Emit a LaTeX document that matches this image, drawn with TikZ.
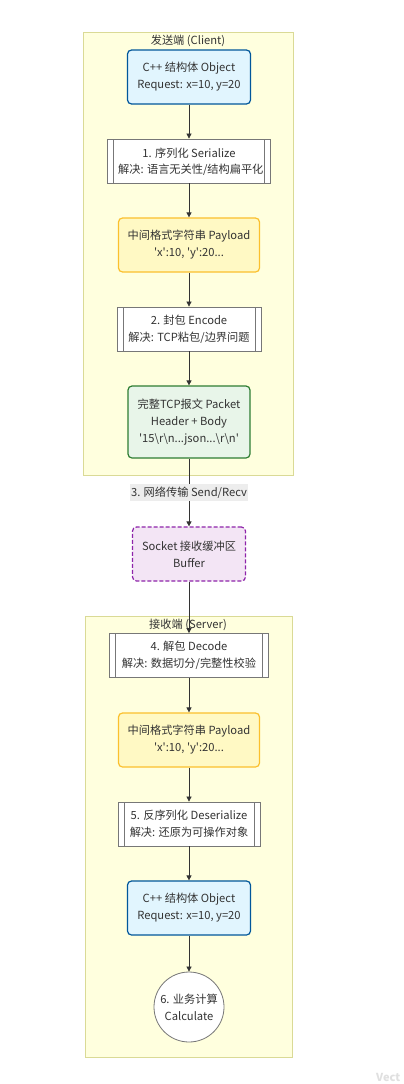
\documentclass[tikz,border=0pt]{standalone}
\usepackage{fontspec}
\setmainfont{Noto Sans CJK SC}
\usetikzlibrary{arrows.meta}
\definecolor{clfill}{HTML}{FFFFDE}
\definecolor{cldraw}{HTML}{DADA96}
\definecolor{bluefill}{HTML}{E1F5FE}
\definecolor{bluedraw}{HTML}{01579B}
\definecolor{yelfill}{HTML}{FFF9C4}
\definecolor{yeldraw}{HTML}{FBC02D}
\definecolor{grnfill}{HTML}{E8F5E9}
\definecolor{grndraw}{HTML}{2E7D32}
\definecolor{purfill}{HTML}{F3E5F5}
\definecolor{purdraw}{HTML}{8E24AA}
\definecolor{subdraw}{HTML}{777777}
\definecolor{txt}{HTML}{333333}
\definecolor{lblbg}{HTML}{EDEDED}
\tikzset{
  base/.style={align=center, text=txt, font=\fontsize{11.2}{17}\selectfont, inner sep=0pt},
  cluster/.style={draw=cldraw, fill=clfill, line width=0.8pt},
  bluebox/.style={base, draw=bluedraw, fill=bluefill, rounded corners=4pt, line width=1.2pt, minimum width=123pt, minimum height=54pt},
  yelbox/.style={base, draw=yeldraw, fill=yelfill, rounded corners=4pt, line width=1.2pt, minimum width=141pt, minimum height=54pt},
  grnbox/.style={base, draw=grndraw, fill=grnfill, rounded corners=4pt, line width=1.2pt, minimum width=122pt, minimum height=72pt},
  purbox/.style={base, draw=purdraw, fill=purfill, rounded corners=4pt, line width=1.2pt, dashed, dash pattern=on 4pt off 2pt, minimum width=113pt, minimum height=54pt},
  subr/.style={base, draw=subdraw, fill=white, line width=0.8pt, minimum height=44pt,
    path picture={
      \draw[subdraw, line width=0.8pt] ([xshift=6pt]path picture bounding box.north west) -- ([xshift=6pt]path picture bounding box.south west);
      \draw[subdraw, line width=0.8pt] ([xshift=-6pt]path picture bounding box.north east) -- ([xshift=-6pt]path picture bounding box.south east);
    }},
  circ/.style={base, circle, draw=subdraw, fill=white, line width=0.8pt, minimum size=70pt},
  edge/.style={draw=txt, line width=0.7pt, -{Triangle[length=5pt,width=5pt]}},
  ttl/.style={text=txt, font=\fontsize{11.2}{13}\selectfont, inner sep=0pt}
}
\begin{document}
\begin{tikzpicture}[x=1pt,y=-1pt]
\useasboundingbox (0,0) rectangle (404,1084);
\fill[white] (0,0) rectangle (404,1084);
% clusters
\draw[cluster] (83,32) rectangle (293,475);
\node[ttl] (t1) at (188,41) {发送端 (Client)};
\draw[cluster] (85,616) rectangle (292,1057);
\node[ttl] (t2) at (188,625) {接收端 (Server)};
% client nodes
\node[bluebox] (n1) at (189,77) {C++ 结构体 Object\\Request: x=10, y=20};
\node[subr, minimum width=163pt] (n2) at (189,161) {};
\node[base] (n2a) at (189,153) {1. 序列化 Serialize};
\begin{scope}
  \clip (113,140) rectangle (264,182);
  \node[base, anchor=west] (n2b) at (118,170) {解决: 语言无关性/结构扁平化};
\end{scope}
\node[yelbox] (n3) at (189,245) {中间格式字符串 Payload\\\textquotesingle x\textquotesingle:10, \textquotesingle y\textquotesingle:20...};
\node[subr, minimum width=144pt] (n4) at (189,329) {2. 封包 Encode\\解决: TCP粘包/边界问题};
\node[grnbox] (n5) at (189,422) {完整TCP报文 Packet\\Header + Body\\\textquotesingle 15\textbackslash r\textbackslash n...json...\textbackslash r\textbackslash n\textquotesingle};
% middle
\node[purbox] (n6) at (189,554) {Socket 接收缓冲区\\Buffer};
% server nodes
\node[subr, minimum width=159pt] (n7) at (189,655.5) {4. 解包 Decode\\解决: 数据切分/完整性校验};
\node[yelbox] (n8) at (189,740) {中间格式字符串 Payload\\\textquotesingle x\textquotesingle:10, \textquotesingle y\textquotesingle:20...};
\node[subr, minimum width=142pt] (n9) at (189,824) {5. 反序列化 Deserialize\\解决: 还原为可操作对象};
\node[bluebox] (n10) at (189,908) {C++ 结构体 Object\\Request: x=10, y=20};
\node[circ] (n11) at (189,1007) {6. 业务计算\\Calculate};
% edges
\draw[edge] (n1) -- (n2);
\draw[edge] (n2) -- (n3);
\draw[edge] (n3) -- (n4);
\draw[edge] (n4) -- (n5);
\draw[edge] (n5) -- node[base, fill=lblbg, inner xsep=1pt, inner ysep=3pt] (lbl) {3. 网络传输 Send/Recv} (n6);
\draw[edge] (n6) -- (n7);
\draw[edge] (n7) -- (n8);
\draw[edge] (n8) -- (n9);
\draw[edge] (n9) -- (n10);
\draw[edge] (n10) -- (n11);
% watermark
\node[anchor=west, text=black!12, font=\fontsize{11}{13}\selectfont\bfseries, inner sep=0pt] (wm) at (376,1077) {Vect};
\end{tikzpicture}
\end{document}
